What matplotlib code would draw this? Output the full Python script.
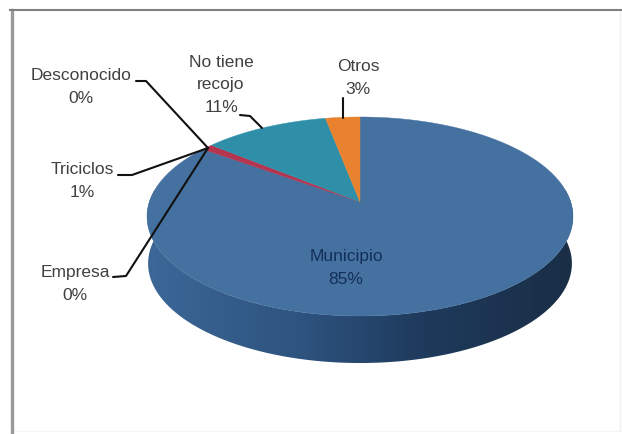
import numpy as np
import matplotlib
matplotlib.use("Agg")
import matplotlib.pyplot as plt
from matplotlib.patches import Polygon
from matplotlib.colors import LinearSegmentedColormap

labels = ["Municipio", "Empresa", "Triciclos", "Desconocido", "No tiene\nrecojo", "Otros"]
values = [85, 0, 1, 0, 11, 3]
colors = ["#44719F", "#5A3E7A", "#B5344F", "#6B8E3A", "#2F8FA8", "#E8822E"]

plt.rcParams["font.family"] = ["Liberation Sans", "DejaVu Sans"]
W, H = 622, 434
fig = plt.figure(figsize=(W / 100, H / 100), dpi=100, facecolor="white")
ax = fig.add_axes([0, 0, 1, 1])
ax.set_xlim(0, W)
ax.set_ylim(H, 0)
ax.axis("off")

CX, CY, R, A, K, DEPTH = 360, 202, 210.7, 97.4, 0.1457, 47


def rim(frac):
    t = 2 * np.pi * np.asarray(frac)
    x, y = np.sin(t), np.cos(t)
    d = 1 + K * y
    return CX + R * x / d, CY - A * y / d


# side wall: horizontal gradient clipped to the extruded lower rim
cmap = LinearSegmentedColormap.from_list(
    "side", [(0, "#3C6797"), (0.35, "#2E5480"), (0.65, "#1E3A5C"), (1, "#1A2E46")])
fr = np.linspace(0.22, 0.78, 220)
xs, ys = rim(fr)
lowx = CX + (xs - CX) * 0.995
poly = Polygon(np.c_[np.r_[xs, lowx[::-1]], np.r_[ys, (ys + DEPTH)[::-1]]],
               transform=ax.transData, fc="none", ec="none")
ax.add_patch(poly)
im = ax.imshow(np.linspace(0, 1, 256)[None, :], cmap=cmap, aspect="auto",
               extent=(147, 573, 380, 190), zorder=1, interpolation="bilinear")
im.set_clip_path(poly)
ax.set_xlim(0, W)
ax.set_ylim(H, 0)

# top face: clockwise from 12 o'clock
start = 0.0
total = sum(values)
for v, c in zip(values, colors):
    if v > 0:
        f = np.linspace(start, start + v / total, max(4, int(v * 4)))
        x, y = rim(f)
        ax.fill(np.r_[CX, x], np.r_[CY, y], color=c, lw=0.3, zorder=2)
    start += v / total

# labels
tc = "#404040"
fs = 12.5
ls = 1.62
lab = dict(ha="center", va="center", fontsize=fs, color=tc, linespacing=ls, zorder=5)
ax.text(81, 87, "Desconocido\n0%", **lab)
ax.text(221, 85, "No tiene\nrecojo\n11%", **lab)
ax.text(358, 78, "Otros\n3%", **lab)
ax.text(82, 181, "Triciclos\n1%", **lab)
ax.text(75, 284, "Empresa\n0%", **lab)
ax.text(346, 268, "Municipio\n85%", ha="center", va="center", fontsize=fs, color="#14305A",
        linespacing=ls, zorder=5)

# leader lines
lines = [
    ([136, 146, 208], [81, 81, 148]),
    ([118, 132, 208], [175, 175, 148]),
    ([113, 126, 208], [277, 276, 148]),
    ([240, 250, 262], [115, 116, 128]),
    ([343, 343], [98, 118]),
]
for lx, ly in lines:
    ax.plot(lx, ly, color="#111111", lw=1.5, zorder=4, solid_capstyle="round")

# frame
ax.plot([11.5, 11.5], [H, 10], color="#9a9a9a", lw=2.4, zorder=6)
ax.plot([10, W], [10, 10], color="#808080", lw=1.5, zorder=6)
ax.plot([620, 620], [11, 431], color="#f0f0f0", lw=1, zorder=0)
ax.plot([13, 620], [431, 431], color="#f5f5f5", lw=1, zorder=0)

fig.savefig("out.png", dpi=100, facecolor="white")
